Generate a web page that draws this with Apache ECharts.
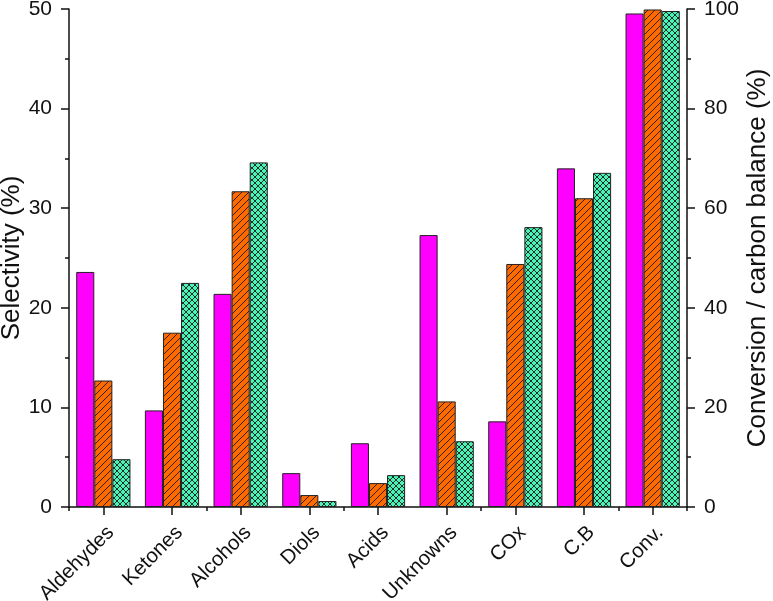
<!DOCTYPE html>
<html>
<head>
<meta charset="utf-8">
<script src="https://cdn.jsdelivr.net/npm/echarts@6/dist/echarts.min.js"></script>
<style>
	html, body { margin: 0; padding: 0; background: #fff; }
	#main { width: 773px; height: 601px; }
</style>
</head>
<body>
<div id="main"></div>
<script>
	// categories
	var categories = ['Aldehydes', 'Ketones', 'Alcohols', 'Diols', 'Acids', 'Unknowns', 'COx', 'C.B', 'Conv.'];
	// selectivity (left axis, %), first 7 categories
	var sel1 = [23.6, 9.7, 21.4, 3.4, 6.4, 27.3, 8.6];
	var sel2 = [12.7, 17.5, 31.7, 1.2, 2.4, 10.6, 24.4];
	var sel3 = [4.8, 22.5, 34.6, 0.6, 3.2, 6.6, 28.1];
	// carbon balance and conversion (right axis, %)
	var conv1 = [68.0, 99.1];
	var conv2 = [62.0, 99.9];
	var conv3 = [67.1, 99.6];
	// tick labels
	var leftTicks = ['0', '10', '20', '30', '40', '50'];
	var rightTicks = ['0', '20', '40', '60', '80', '100'];

	var font = 'Liberation Sans';

	function hatch(bg, size, cross) {
		var c = document.createElement('canvas');
		c.width = size;
		c.height = size;
		var ctx = c.getContext('2d');
		ctx.fillStyle = bg;
		ctx.fillRect(0, 0, size, size);
		ctx.strokeStyle = '#1a1a1a';
		ctx.lineWidth = 0.9;
		ctx.beginPath();
		ctx.moveTo(-1, size + 1); ctx.lineTo(size + 1, -1);
		ctx.moveTo(-1, 1); ctx.lineTo(1, -1);
		ctx.moveTo(size - 1, size + 1); ctx.lineTo(size + 1, size - 1);
		if (cross) {
			ctx.moveTo(-1, -1); ctx.lineTo(size + 1, size + 1);
			ctx.moveTo(size - 1, -1); ctx.lineTo(size + 1, 1);
			ctx.moveTo(-1, size - 1); ctx.lineTo(1, size + 1);
		}
		ctx.stroke();
		return c;
	}

	var fills = [
		'#ff00ff',
		{ image: hatch('#ff6a00', 7, false), repeat: 'repeat' },
		{ image: hatch('#4af3b6', 6, true), repeat: 'repeat' }
	];

	function pad(arr, before, after) {
		var out = [];
		for (var i = 0; i < before; i++) out.push('-');
		out = out.concat(arr);
		for (var j = 0; j < after; j++) out.push('-');
		return out;
	}

	function bar(name, data, idx, axisIdx) {
		return {
			name: name,
			type: 'bar',
			xAxisIndex: axisIdx,
			yAxisIndex: axisIdx,
			barGap: '0%',
			barCategoryGap: '21%',
			itemStyle: { color: fills[idx], borderColor: '#222', borderWidth: 1 },
			data: data
		};
	}

	var series = [
		bar('s1', pad(sel1, 0, 2), 0, 0),
		bar('s2', pad(sel2, 0, 2), 1, 0),
		bar('s3', pad(sel3, 0, 2), 2, 0),
		bar('c1', pad(conv1, 7, 0), 0, 1),
		bar('c2', pad(conv2, 7, 0), 1, 1),
		bar('c3', pad(conv3, 7, 0), 2, 1)
	];

	function valueAxis(pos, max, interval, ticks, name, gap) {
		return {
			type: 'value',
			position: pos,
			min: 0,
			max: max,
			interval: interval,
			name: name,
			nameLocation: 'middle',
			nameRotate: 90,
			nameGap: gap,
			nameMoveOverlap: false,
			nameTextStyle: { fontFamily: font, fontSize: 26, color: '#111' },
			axisLine: { show: true, lineStyle: { color: '#111', width: 1.5 } },
			axisTick: { show: true, inside: false, length: 8, lineStyle: { color: '#111', width: 1.5 } },
			minorTick: { show: true, splitNumber: 2, length: 4, lineStyle: { color: '#111', width: 1.5 } },
			splitLine: { show: false },
			axisLabel: {
				fontFamily: font, fontSize: 21, color: '#111', margin: 17,
				formatter: function (v) { return ticks[Math.round(v / interval)]; }
			}
		};
	}

	var myChart = echarts.init(document.getElementById('main'));
	var option = {
		animation: false,
		grid: { left: 69, right: 86, top: 9, bottom: 94, containLabel: false, outerBoundsMode: 'none' },
		xAxis: [
			{
				type: 'category',
				position: 'bottom',
				data: categories,
				axisLine: { show: true, onZero: false, lineStyle: { color: '#111', width: 1.5 } },
				axisTick: { show: true, alignWithLabel: true, length: 8, lineStyle: { color: '#111', width: 1.5 } },
				axisLabel: {
					interval: 0, rotate: 45, fontFamily: font, fontSize: 20.5, color: '#111',
					margin: 15, align: 'right', verticalAlign: 'top'
				}
			},
			{
				type: 'category',
				position: 'bottom',
				data: categories,
				axisLine: { show: false, onZero: false },
				axisTick: { show: true, length: 4, lineStyle: { color: '#111', width: 1.5 } },
				axisLabel: { show: false }
			}
		],
		yAxis: [
			valueAxis('left', 50, 10, leftTicks, 'Selectivity (%)', 44),
			valueAxis('right', 100, 20, rightTicks, 'Conversion / carbon balance (%)', 58)
		],
		series: series
	};
	myChart.setOption(option);
</script>
</body>
</html>
